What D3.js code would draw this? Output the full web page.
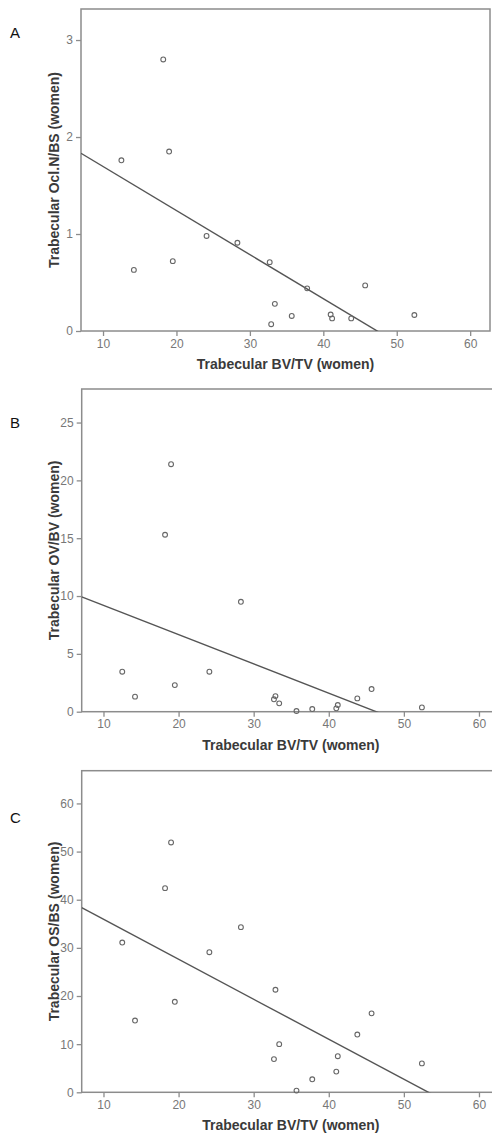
<!DOCTYPE html>
<html>
<head>
<meta charset="utf-8">
<script src="https://cdn.jsdelivr.net/npm/d3@7"></script>
<style>
  html, body { margin: 0; padding: 0; background: #fff; }
  svg { display: block; }
  text { font-family: "Liberation Sans", Arial, sans-serif; }
</style>
</head>
<body>
<svg id="chart" width="492" height="1140"></svg>
<script>
// Trabecular bone volume (BV/TV, %) for each woman, shared by all panels
const bvtv = [12.5, 14.2, 18.2, 19.0, 19.5, 24.1, 28.3, 32.7, 32.9, 33.4, 35.7, 37.8, 41.0, 41.2, 43.8, 45.7, 52.4];

// Osteoclast number per bone surface
const oclNBS = [1.76, 0.63, 2.80, 1.85, 0.72, 0.98, 0.91, 0.71, 0.07, 0.28, 0.155, 0.44, 0.17, 0.13, 0.13, 0.47, 0.165];

// Osteoid volume per bone volume
const ovBV = [3.46, 1.30, 15.3, 21.4, 2.30, 3.46, 9.50, 1.07, 1.35, 0.72, 0.06, 0.23, 0.29, 0.58, 1.15, 1.96, 0.37];

// Osteoid surface per bone surface
const osBS = [31.1, 14.9, 42.4, 51.9, 18.8, 29.1, 34.3, 6.9, 21.3, 10.0, 0.35, 2.7, 4.3, 7.5, 12.0, 16.4, 6.0];

// Axis tick labels
const xTicks = [10, 20, 30, 40, 50, 60];
const yTicksA = [0, 1, 2, 3];
const yTicksB = [0, 5, 10, 15, 20, 25];
const yTicksC = [0, 10, 20, 30, 40, 50, 60];

const xTitle = "Trabecular BV/TV (women)";

const panels = [
  { letter: "A", y: oclNBS, yTicks: yTicksA, yTitle: "Trabecular Ocl.N/BS (women)",
    box: { left: 81, right: 490, top: 9, bottom: 331 },
    xDomain: [7.0, 62.7], yDomain: [0, 3.32], letterY: 38 },
  { letter: "B", y: ovBV, yTicks: yTicksB, yTitle: "Trabecular OV/BV (women)",
    box: { left: 81.7, right: 500, top: 389, bottom: 711.7 },
    xDomain: [7.1, 62.8], yDomain: [0, 27.9], letterY: 428 },
  { letter: "C", y: osBS, yTicks: yTicksC, yTitle: "Trabecular OS/BS (women)",
    box: { left: 81.7, right: 500, top: 770.7, bottom: 1092.3 },
    xDomain: [7.1, 62.8], yDomain: [0, 66.8], letterY: 823 }
];

// Ordinary least-squares fit
function linearFit(xs, ys) {
  const mx = d3.mean(xs), my = d3.mean(ys);
  let sxy = 0, sxx = 0;
  xs.forEach((x, i) => { sxy += (x - mx) * (ys[i] - my); sxx += (x - mx) * (x - mx); });
  const slope = sxy / sxx;
  return { slope, intercept: my - slope * mx };
}

const svg = d3.select("#chart");
const frameColor = "#8c8c8c";
const tickText = "#777";
const fmt = d3.format("d");

panels.forEach((p, idx) => {
  const b = p.box;
  const x = d3.scaleLinear().domain(p.xDomain).range([b.left, b.right]);
  const y = d3.scaleLinear().domain(p.yDomain).range([b.bottom, b.top]);
  const g = svg.append("g");

  const clipId = "plot-clip-" + idx;
  svg.append("clipPath").attr("id", clipId)
    .append("rect")
    .attr("x", b.left).attr("y", b.top)
    .attr("width", b.right - b.left).attr("height", b.bottom - b.top);

  // Frame round the plot area
  g.append("rect")
    .attr("x", b.left).attr("y", b.top)
    .attr("width", b.right - b.left).attr("height", b.bottom - b.top)
    .attr("fill", "none").attr("stroke", frameColor).attr("stroke-width", 1.5);

  // Axes
  const xAxis = g.append("g").attr("transform", `translate(0,${b.bottom})`)
    .call(d3.axisBottom(x).tickValues(xTicks).tickFormat(fmt)
      .tickSize(5).tickSizeOuter(0).tickPadding(3));
  const yAxis = g.append("g").attr("transform", `translate(${b.left},0)`)
    .call(d3.axisLeft(y).tickValues(p.yTicks).tickFormat(fmt)
      .tickSize(5).tickSizeOuter(0).tickPadding(3));
  [xAxis, yAxis].forEach(a => {
    a.select(".domain").remove();
    a.selectAll(".tick line").attr("stroke", frameColor).attr("stroke-width", 1.3);
    a.selectAll(".tick text").attr("fill", tickText)
      .style("font-family", "'Liberation Sans', Arial, sans-serif")
      .style("font-size", "12px");
  });

  // Fit line, clipped to the plot area
  const fit = linearFit(bvtv, p.y);
  const xs = p.xDomain;
  g.append("line")
    .attr("clip-path", `url(#${clipId})`)
    .attr("x1", x(xs[0])).attr("y1", y(fit.intercept + fit.slope * xs[0]))
    .attr("x2", x(xs[1])).attr("y2", y(fit.intercept + fit.slope * xs[1]))
    .attr("stroke", "#555").attr("stroke-width", 1.4);

  // Data points
  g.append("g").selectAll("circle")
    .data(bvtv.map((v, i) => [v, p.y[i]]))
    .join("circle")
    .attr("cx", d => x(d[0])).attr("cy", d => y(d[1]))
    .attr("r", 2.4)
    .attr("fill", "none").attr("stroke", "#666").attr("stroke-width", 1.1);

  // Axis titles
  g.append("text")
    .attr("x", (b.left + b.right) / 2).attr("y", b.bottom + 38)
    .attr("text-anchor", "middle")
    .attr("fill", "#3a3a3a").style("font-size", "14px").style("font-weight", "bold")
    .text(xTitle);
  g.append("text")
    .attr("transform", `translate(59,${(b.top + b.bottom) / 2}) rotate(-90)`)
    .attr("text-anchor", "middle")
    .attr("fill", "#3a3a3a").style("font-size", "14px").style("font-weight", "bold")
    .text(p.yTitle);

  // Panel letter
  g.append("text")
    .attr("x", 10).attr("y", p.letterY)
    .attr("fill", "#111").style("font-size", "15px")
    .text(p.letter);
});
</script>
</body>
</html>
